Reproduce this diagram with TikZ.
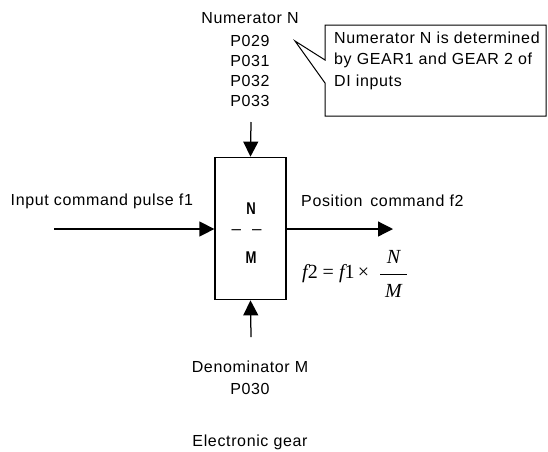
\documentclass[tikz,border=0pt]{standalone}
\usepackage{fontspec}
\setmainfont[LetterSpace=4]{Liberation Sans}
\newfontfamily\tnr{Liberation Serif}
\newfontfamily\plainsans{Liberation Sans}
\usetikzlibrary{arrows.meta}
\tikzset{
  lbl/.style={font=\fontsize{16}{19}\selectfont, inner sep=0pt},
  arr/.style={-{Triangle[width=15pt,length=15pt]}, line width=1.25pt},
  boxln/.style={draw, line width=1.25pt},
  boxtxt/.style={font=\plainsans\fontsize{17}{17}\selectfont\bfseries, inner sep=0pt},
  frm/.style={font=\tnr\fontsize{20}{20}\selectfont, inner sep=0pt}
}
\begin{document}
\begin{tikzpicture}[x=1pt,y=-1pt]
\useasboundingbox (0,0) rectangle (548,451);
% main block
\node[boxln, minimum width=71pt, minimum height=142.5pt, inner sep=0pt] (box) at (250.5,228.5) {};
\node[boxtxt] (bN) at (251,209) {\scalebox{0.77}[1]{N}};
\node[boxtxt, anchor=base, font=\plainsans\fontsize{17}{17}\selectfont] (bdash) at (246.5,234.5) {–\hspace{11pt}–};
\node[boxtxt] (bM) at (251,258) {\scalebox{0.77}[1]{M}};
% arrows
\coordinate (inL) at (54,229);
\coordinate (outR) at (393,229);
\coordinate (topA) at (251,122);
\coordinate (botA) at (251,337);
\draw[arr] (inL) -- (inL -| box.west);
\draw[arr] (outR -| box.east) -- (outR);
\draw[arr] (topA) -- (box.north);
\draw[arr] (botA) -- (box.south);
% labels
\node[lbl] (numN) at (250,18) {Numerator N};
\node[lbl] (p029) at (250,41) {P029};
\node[lbl] (p031) at (250,61) {P031};
\node[lbl] (p032) at (250,81) {P032};
\node[lbl] (p033) at (250,101) {P033};
\node[lbl, anchor=west] (inlbl) at (10.5,201) {Input command pulse f1};
\node[lbl, anchor=west] (outlbl) at (301,201) {Position\, command f2};
\node[lbl] (denM) at (250,367) {Denominator M};
\node[lbl] (p030) at (250,389) {P030};
\node[lbl] (egear) at (250,442) {Electronic gear};
% callout
\draw[line width=1pt] (325,25) -- (546,25) -- (546,116) -- (325,116) -- (325,83) -- (295,41) -- (325,60) -- cycle;
\node[lbl, anchor=west] (callt1) at (334,38) {Numerator N is determined};
\node[lbl, anchor=west] (callt2) at (334,60) {by GEAR1 and GEAR 2 of};
\node[lbl, anchor=west] (callt3) at (334,82) {DI inputs};
% formula
\node[frm, anchor=west] (fl) at (302,274) {\itshape f\upshape 2 = \itshape f\upshape 1\,×};
\node[frm] (fN) at (393.5,257) {\itshape N};
\node[frm] (fM) at (393.5,291) {\itshape M};
\draw[line width=0.8pt] (380,274) -- (407,274);
\end{tikzpicture}
\end{document}
